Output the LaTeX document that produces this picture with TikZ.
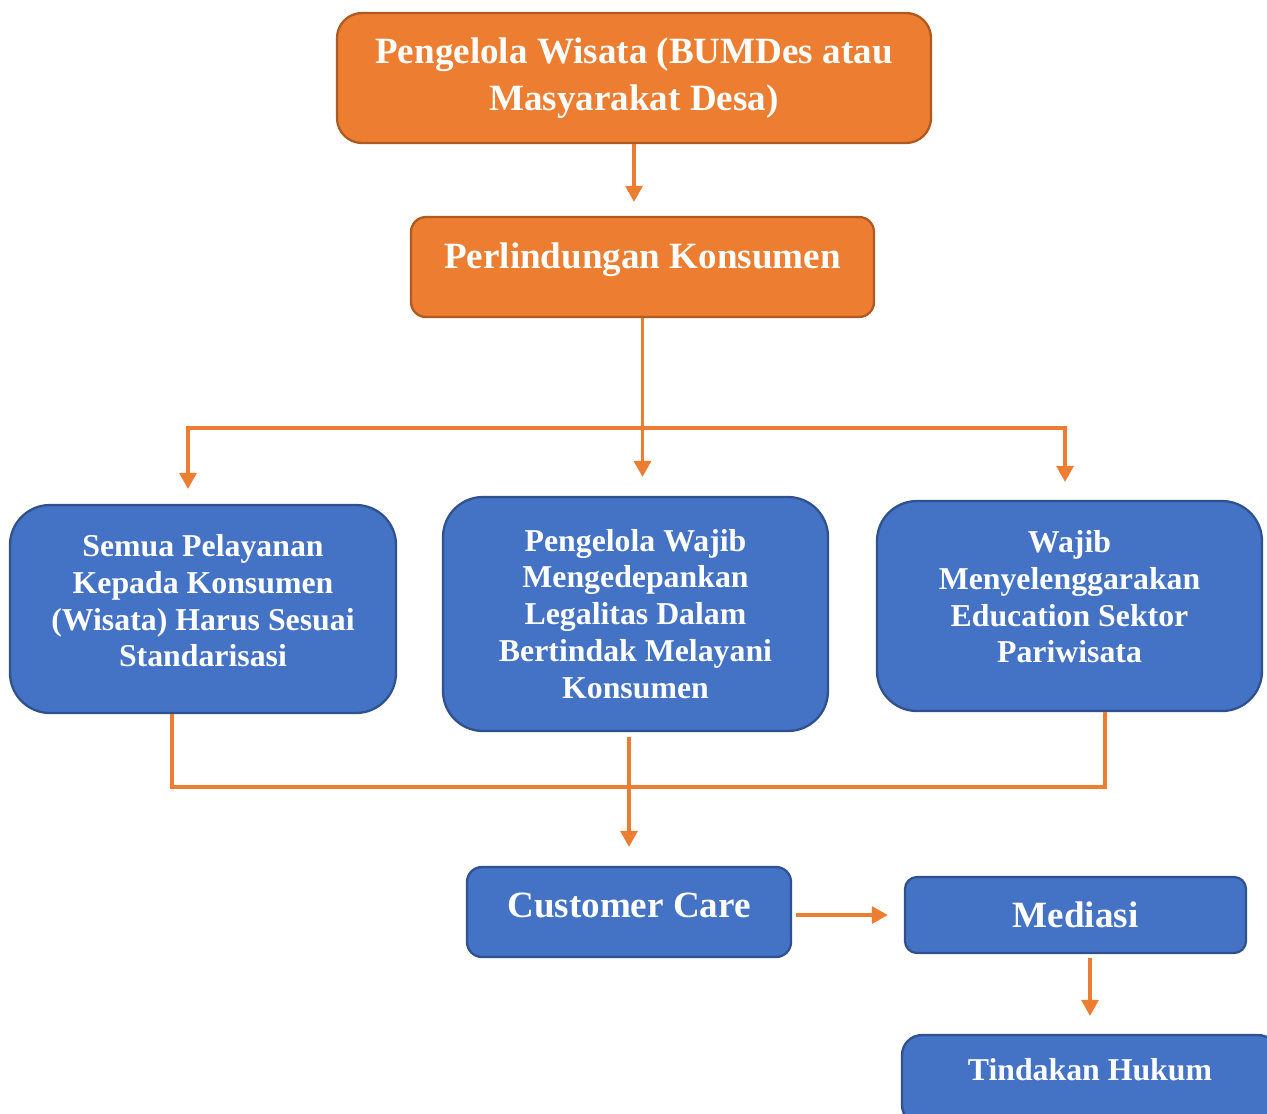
\documentclass[tikz,border=0pt]{standalone}
\usepackage{fontspec}
\setmainfont{Liberation Serif}
\usetikzlibrary{positioning,calc,arrows.meta}
\definecolor{fillorange}{HTML}{ED7D31}
\definecolor{rimorange}{HTML}{AE5A21}
\definecolor{fillblue}{HTML}{4472C4}
\definecolor{rimblue}{HTML}{2F528F}
\tikzset{
  orangebox/.style={shape=rectangle,draw=rimorange,fill=fillorange,line width=0.65pt,
    text=white,align=center,inner sep=0pt,
    font=\fontsize{10.55}{13.4}\selectfont\bfseries},
  bluebox/.style={orangebox,draw=rimblue,fill=fillblue},
  smalltext/.style={font=\fontsize{9.05}{10.5}\selectfont\bfseries},
  link/.style={draw=fillorange,line width=0.9pt},
  flow/.style={link,-{Triangle[length=0.16cm,width=0.17cm]}}
}
\begin{document}
\begin{tikzpicture}
  \clip (0,0) rectangle (12.67,-11.13);
  % boxes
  \node (top) [orangebox,minimum width=5.94cm,minimum height=1.30cm,rounded corners=0.25cm]
    at (6.34,-0.78) {Pengelola Wisata (BUMDes atau\\Masyarakat Desa)};
  \node (prot) [orangebox,minimum width=4.63cm,minimum height=1.00cm,rounded corners=0.15cm,
    text depth=0.23cm] at (6.425,-2.67) {Perlindungan Konsumen};
  \node (s1) [bluebox,smalltext,minimum width=3.86cm,minimum height=2.08cm,rounded corners=0.4cm,
    text depth=0.17cm] at (2.03,-6.09)
    {Semua Pelayanan\\Kepada Konsumen\\(Wisata) Harus Sesuai\\Standarisasi};
  \node (s2) [bluebox,smalltext,minimum width=3.85cm,minimum height=2.34cm,rounded corners=0.4cm]
    at (6.355,-6.14)
    {Pengelola Wajib\\Mengedepankan\\Legalitas Dalam\\Bertindak Melayani\\Konsumen};
  \node (s3) [bluebox,smalltext,minimum width=3.85cm,minimum height=2.10cm,rounded corners=0.4cm,
    text depth=0.19cm] at (10.695,-6.06)
    {Wajib\\Menyelenggarakan\\Education Sektor\\Pariwisata};
  \node (cc) [bluebox,minimum width=3.24cm,minimum height=0.90cm,rounded corners=0.15cm,
    text depth=0.14cm] at (6.29,-9.12) {Customer Care};
  \node (med) [bluebox,minimum width=3.41cm,minimum height=0.76cm,rounded corners=0.12cm]
    at (10.755,-9.15) {Mediasi};
  \node (hukum) [bluebox,smalltext,minimum width=3.76cm,minimum height=0.90cm,rounded corners=0.2cm,
    text depth=0.21cm] at (10.90,-10.80) {Tindakan Hukum};
  % connectors
  \coordinate (forkl) at (1.88,-4.28);
  \coordinate (forkr) at (10.65,-4.28);
  \coordinate (joinl) at (1.72,-7.87);
  \coordinate (joinr) at (11.05,-7.87);
  \draw[flow,shorten >=0.14cm] (top.south) -- (top.south |- prot.north);
  \draw[flow,shorten >=0.19cm] (prot.south) -- (prot.south |- s2.north);
  \draw[link,{Triangle[length=0.16cm,width=0.17cm]}-{Triangle[length=0.16cm,width=0.17cm]},
    shorten <=0.15cm,shorten >=0.18cm]
    (forkl |- s1.north) -- (forkl) -- (forkr) -- (forkr |- s3.north);
  \draw[link] (joinl |- s1.south) -- (joinl) -- (joinr) -- (joinr |- s3.south);
  \draw[flow,shorten <=0.05cm,shorten >=0.19cm] (s2.south -| cc.north) -- (cc.north);
  \draw[flow,shorten <=0.04cm,shorten >=0.16cm] (med.west -| cc.east) -- (med.west);
  \draw[flow,shorten <=0.04cm,shorten >=0.18cm] (hukum.north |- med.south) -- (hukum.north);
\end{tikzpicture}
\end{document}
